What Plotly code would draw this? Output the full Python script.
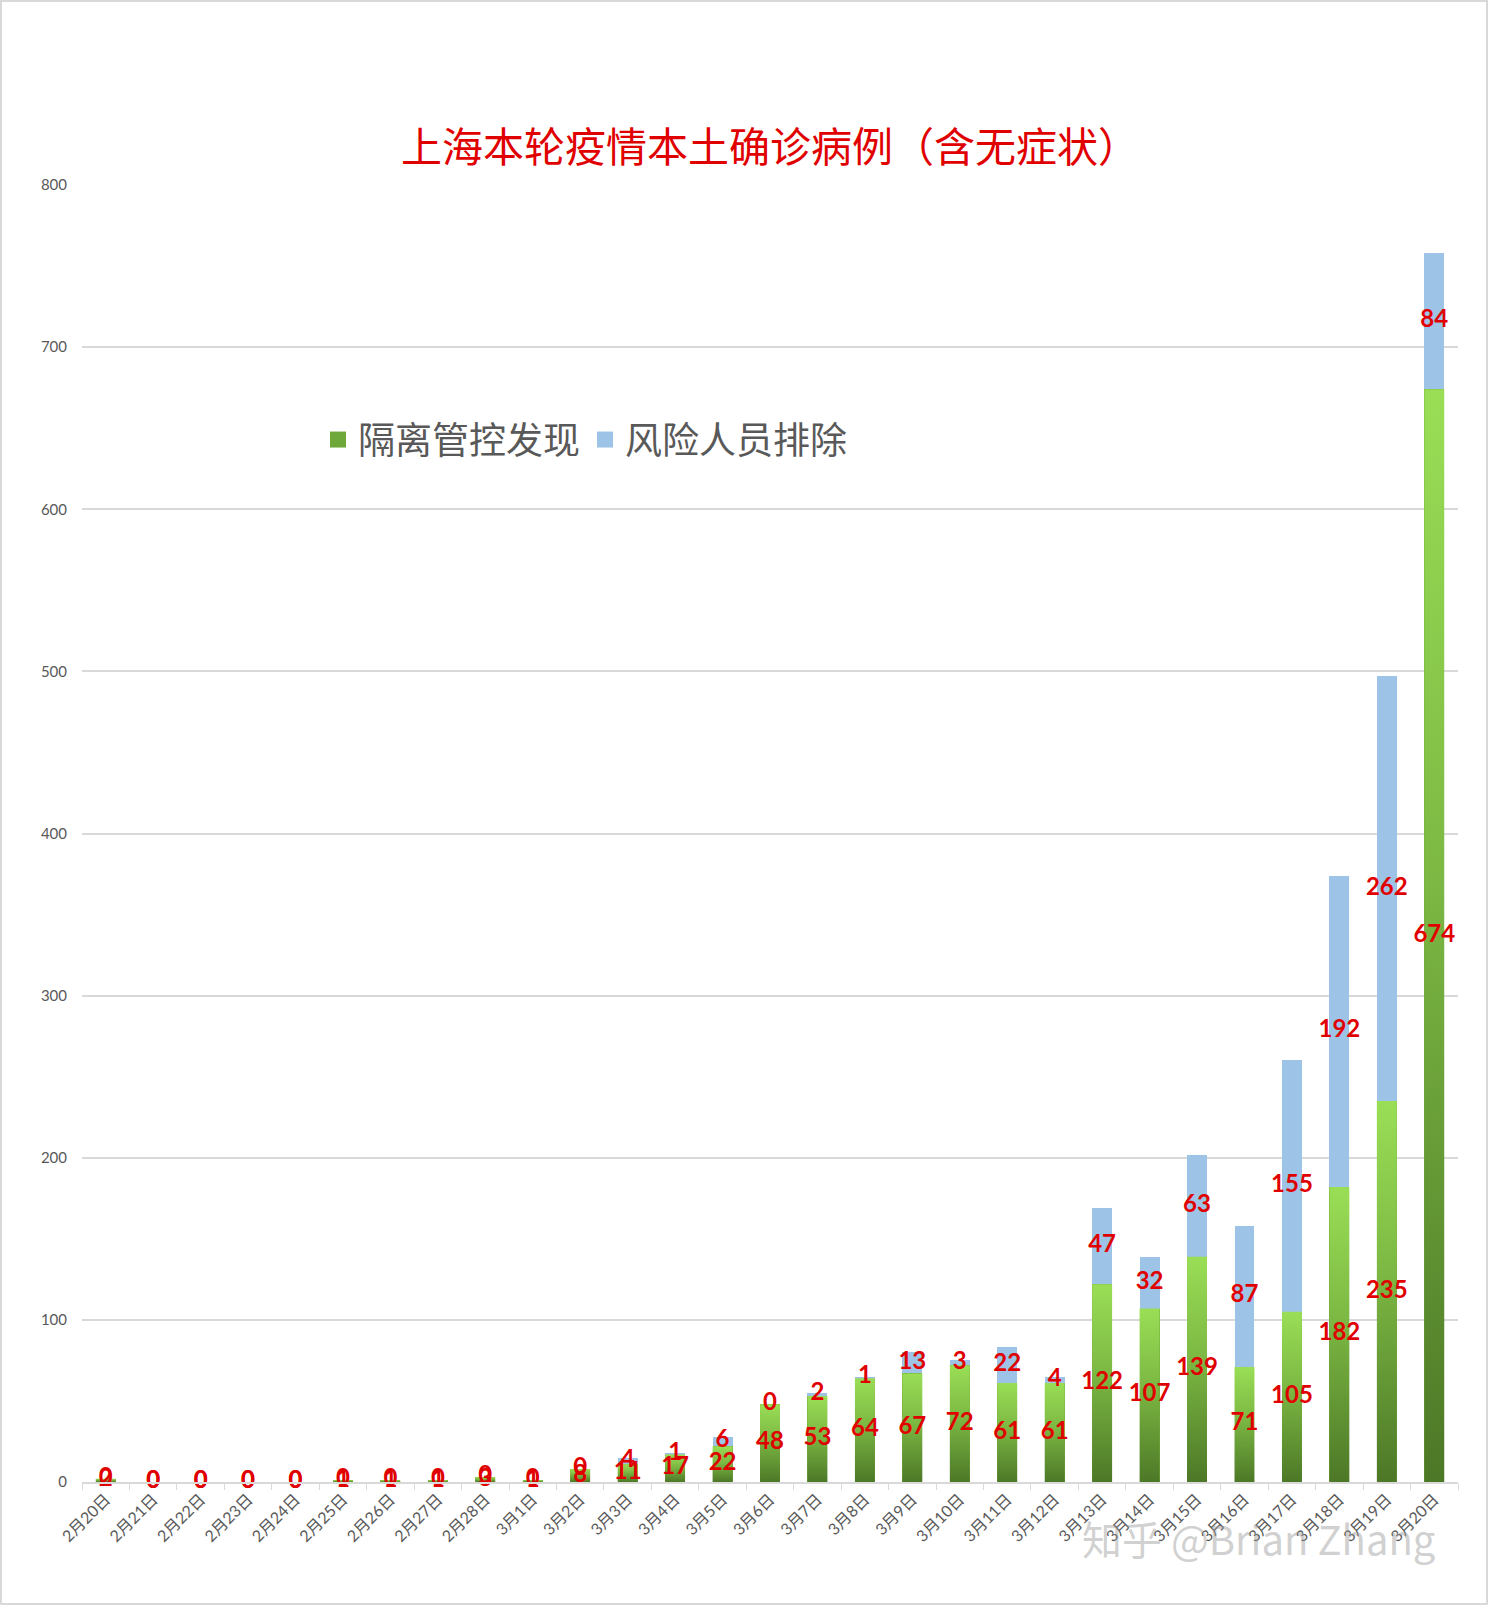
import plotly.graph_objects as go

dates = ["2月20日", "2月21日", "2月22日", "2月23日", "2月24日", "2月25日", "2月26日", "2月27日", "2月28日",
         "3月1日", "3月2日", "3月3日", "3月4日", "3月5日", "3月6日", "3月7日", "3月8日", "3月9日", "3月10日",
         "3月11日", "3月12日", "3月13日", "3月14日", "3月15日", "3月16日", "3月17日", "3月18日", "3月19日", "3月20日"]
isolated = [2, 0, 0, 0, 0, 1, 1, 1, 3, 1, 8, 11, 17, 22, 48, 53, 64, 67, 72, 61, 61, 122, 107, 139, 71, 105, 182, 235, 674]
screened = [0, 0, 0, 0, 0, 0, 0, 0, 0, 0, 0, 4, 1, 6, 0, 2, 1, 13, 3, 22, 4, 47, 32, 63, 87, 155, 192, 262, 84]
yticks = [0, 100, 200, 300, 400, 500, 600, 700, 800]
series_names = ["隔离管控发现", "风险人员排除"]

W, H = 1489, 1606
L, R, T, B = 82, 31, 185, 124
pw, ph = W - L - R, H - T - B
BARW = 0.42
GREEN, BLUE = "#72a83a", "#9dc3e6"
n = len(dates)
idx = list(range(n))

fig = go.Figure()
fig.add_trace(go.Bar(x=dates, y=isolated, name=series_names[0], marker=dict(color=GREEN, line=dict(width=0)),
                     width=BARW, showlegend=False))
fig.add_trace(go.Bar(x=dates, y=screened, name=series_names[1], marker=dict(color=BLUE, line=dict(width=0)),
                     width=BARW, showlegend=False))

# vertical gradient fill on the green segments (dark at base, light at top)
for i, g in zip(idx, isolated):
    if g <= 0:
        continue
    fig.add_trace(go.Scatter(
        x=[i - BARW / 2, i + BARW / 2, i + BARW / 2, i - BARW / 2, i - BARW / 2],
        y=[0, 0, g, g, 0], xaxis="x2", mode="lines", line=dict(width=0), fill="toself",
        fillgradient=dict(type="vertical", colorscale=[[0, "#4d7827"], [0.55, "#7cb843"], [1, "#9ade56"]],
                          start=0, stop=g),
        showlegend=False, hoverinfo="skip"))

lab_font = dict(family="Lato, Open Sans, sans-serif", size=24, color="#e00000", weight="bold")
fig.add_trace(go.Scatter(x=idx, y=[v / 2 for v in isolated], xaxis="x2", mode="text",
                         text=[str(v) for v in isolated], textfont=lab_font, showlegend=False,
                         hoverinfo="skip", cliponaxis=False))
fig.add_trace(go.Scatter(x=idx, y=[g + s / 2 for g, s in zip(isolated, screened)], xaxis="x2", mode="text",
                         text=[str(v) for v in screened], textfont=lab_font, showlegend=False,
                         hoverinfo="skip", cliponaxis=False))

# legend entries with large square swatches
for name, col in zip(series_names, ["#6fa83a", BLUE]):
    fig.add_trace(go.Scatter(x=[None], y=[None], mode="markers", name=name,
                             marker=dict(symbol="square", size=23, color=col), showlegend=True))

fig.update_layout(
    width=W, height=H, barmode="stack",
    margin=dict(l=L, r=R, t=T, b=B, autoexpand=False),
    paper_bgcolor="white", plot_bgcolor="white",
    title=dict(text="上海本轮疫情本土确诊病例（含无症状）", x=0.5, xref="paper", xanchor="center",
               y=(H - 148) / H, yanchor="middle", yref="container",
               font=dict(family="Noto Sans CJK SC", size=41, color="#e00000")),
    legend=dict(orientation="h", traceorder="normal", x=(318 - L) / pw, xanchor="left", y=(H - B - 440) / ph,
                yanchor="middle", font=dict(family="Noto Sans CJK SC", size=37, color="#595959"),
                bgcolor="rgba(0,0,0,0)", itemwidth=30),
    xaxis=dict(type="category", range=[-0.5, n - 0.5], tickangle=-45, showgrid=False, showline=True,
               linecolor="#d9d9d9", linewidth=1.5, ticks="outside", tickson="boundaries", ticklen=6,
               tickcolor="#d9d9d9", tickfont=dict(family="Lato, Noto Sans CJK SC", size=16, color="#595959"),
               automargin=False),
    xaxis2=dict(overlaying="x", range=[-0.5, n - 0.5], visible=False, showgrid=False, zeroline=False),
    yaxis=dict(range=[0, 800], tickvals=yticks, showgrid=True, gridcolor="#d9d9d9", gridwidth=1.5,
               zeroline=False, showline=False, ticks="", ticklabelstandoff=14,
               tickfont=dict(family="Lato, sans-serif", size=15, color="#595959"), automargin=False),
    showlegend=True,
)

# outer border
fig.add_shape(type="rect", xref="paper", yref="paper",
              x0=(1 - L) / pw, x1=(W - 2 - L) / pw, y0=-(B - 2) / ph, y1=1 + (T - 1) / ph,
              line=dict(color="#d9d9d9", width=2), fillcolor="rgba(0,0,0,0)", layer="below")

# watermark
fig.add_annotation(text="知乎 @Brian Zhang", xref="paper", yref="paper",
                   x=(1258 - L) / pw, y=-(1538 - (H - B)) / ph, xanchor="center", yanchor="middle",
                   showarrow=False, font=dict(family="Noto Sans CJK SC", size=40, color="rgba(150,150,150,0.45)"))

fig.write_html("out.html")
